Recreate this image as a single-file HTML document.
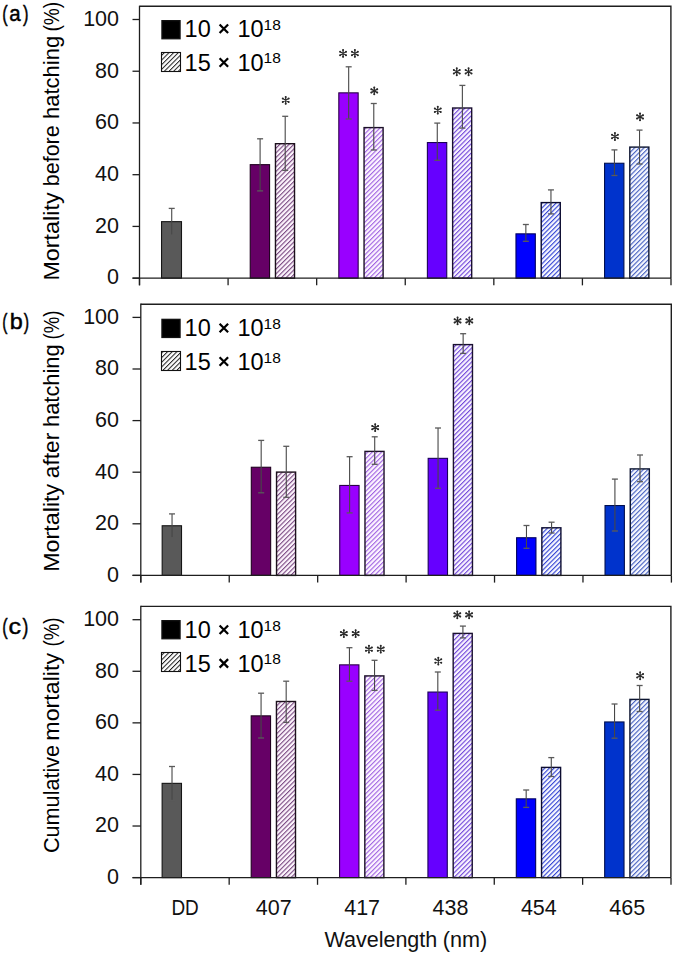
<!DOCTYPE html><html><head><meta charset="utf-8"><style>html,body{margin:0;padding:0;background:#fff;}svg{display:block}text{font-family:"Liberation Sans", sans-serif}</style></head><body>
<svg width="675" height="955" viewBox="0 0 675 955">
<rect width="675" height="955" fill="#fff"/>
<defs>
<pattern id="h1" patternUnits="userSpaceOnUse" width="3.29" height="3.29" patternTransform="rotate(45)"><rect width="3.29" height="3.29" fill="#fdf5fd"/><rect width="1.12" height="3.29" fill="#7c4c84"/></pattern>
<pattern id="h2" patternUnits="userSpaceOnUse" width="3.29" height="3.29" patternTransform="rotate(45)"><rect width="3.29" height="3.29" fill="#fdf5ff"/><rect width="1.12" height="3.29" fill="#a064e2"/></pattern>
<pattern id="h3" patternUnits="userSpaceOnUse" width="3.29" height="3.29" patternTransform="rotate(45)"><rect width="3.29" height="3.29" fill="#f9f4ff"/><rect width="1.12" height="3.29" fill="#7248da"/></pattern>
<pattern id="h4" patternUnits="userSpaceOnUse" width="3.29" height="3.29" patternTransform="rotate(45)"><rect width="3.29" height="3.29" fill="#f8f9ff"/><rect width="1.12" height="3.29" fill="#3444d4"/></pattern>
<pattern id="h5" patternUnits="userSpaceOnUse" width="3.29" height="3.29" patternTransform="rotate(45)"><rect width="3.29" height="3.29" fill="#f7f9ff"/><rect width="1.12" height="3.29" fill="#4660c0"/></pattern>
<pattern id="hl" patternUnits="userSpaceOnUse" x="1.71" width="3.288" height="3.288" patternTransform="rotate(45)"><rect width="3.288" height="3.288" fill="#fff"/><rect width="1.0" height="3.288" fill="#1e1e1e"/></pattern>
<g id="ast"><path d="M0,-3.5V3.5M-3.03,-1.75L3.03,1.75M-3.03,1.75L3.03,-1.75" stroke="#2a2a2a" stroke-width="1.25" stroke-linecap="round" fill="none"/><circle cx="0.00" cy="3.40" r="1.0" fill="#2a2a2a"/><circle cx="-0.00" cy="-3.40" r="1.0" fill="#2a2a2a"/><circle cx="2.94" cy="1.70" r="1.0" fill="#2a2a2a"/><circle cx="-2.94" cy="1.70" r="1.0" fill="#2a2a2a"/><circle cx="-2.94" cy="-1.70" r="1.0" fill="#2a2a2a"/><circle cx="2.94" cy="-1.70" r="1.0" fill="#2a2a2a"/></g>
</defs>
<path d="M139.50,6.30H670.90V278.15" stroke="#1e1e1e" stroke-width="1.40" fill="none"/>
<line x1="132.5" y1="278.15" x2="139.50" y2="278.15" stroke="#1e1e1e" stroke-width="1.30"/>
<text x="119" y="284.45" font-size="21.5" text-anchor="end" fill="#111">0</text>
<line x1="132.5" y1="226.42" x2="139.50" y2="226.42" stroke="#1e1e1e" stroke-width="1.30"/>
<text x="119" y="232.72" font-size="21.5" text-anchor="end" fill="#111">20</text>
<line x1="132.5" y1="174.69" x2="139.50" y2="174.69" stroke="#1e1e1e" stroke-width="1.30"/>
<text x="119" y="180.99" font-size="21.5" text-anchor="end" fill="#111">40</text>
<line x1="132.5" y1="122.96" x2="139.50" y2="122.96" stroke="#1e1e1e" stroke-width="1.30"/>
<text x="119" y="129.26" font-size="21.5" text-anchor="end" fill="#111">60</text>
<line x1="132.5" y1="71.23" x2="139.50" y2="71.23" stroke="#1e1e1e" stroke-width="1.30"/>
<text x="119" y="77.53" font-size="21.5" text-anchor="end" fill="#111">80</text>
<line x1="132.5" y1="19.50" x2="139.50" y2="19.50" stroke="#1e1e1e" stroke-width="1.30"/>
<text x="119" y="25.80" font-size="21.5" text-anchor="end" fill="#111">100</text>
<line x1="139.50" y1="278.15" x2="139.50" y2="285.35" stroke="#1e1e1e" stroke-width="1.30"/>
<line x1="228.08" y1="278.15" x2="228.08" y2="285.35" stroke="#1e1e1e" stroke-width="1.30"/>
<line x1="316.67" y1="278.15" x2="316.67" y2="285.35" stroke="#1e1e1e" stroke-width="1.30"/>
<line x1="405.25" y1="278.15" x2="405.25" y2="285.35" stroke="#1e1e1e" stroke-width="1.30"/>
<line x1="493.83" y1="278.15" x2="493.83" y2="285.35" stroke="#1e1e1e" stroke-width="1.30"/>
<line x1="582.42" y1="278.15" x2="582.42" y2="285.35" stroke="#1e1e1e" stroke-width="1.30"/>
<line x1="671.00" y1="278.15" x2="671.00" y2="285.35" stroke="#1e1e1e" stroke-width="1.30"/>
<rect x="161.54" y="221.65" width="19.95" height="56.50" fill="#595959" stroke="#151515" stroke-width="1.10"/>
<line x1="171.72" y1="208.40" x2="171.72" y2="235.10" stroke="#474747" stroke-width="1.1"/>
<line x1="168.72" y1="208.40" x2="174.72" y2="208.40" stroke="#5a5a5a" stroke-width="1.3"/>
<line x1="168.72" y1="235.10" x2="174.72" y2="235.10" stroke="#5a5a5a" stroke-width="1.3"/>
<rect x="250.23" y="164.65" width="19.35" height="113.50" fill="#660066" stroke="#200020" stroke-width="1.10"/>
<line x1="260.10" y1="138.80" x2="260.10" y2="190.90" stroke="#474747" stroke-width="1.1"/>
<line x1="257.10" y1="138.80" x2="263.10" y2="138.80" stroke="#5a5a5a" stroke-width="1.3"/>
<line x1="257.10" y1="190.90" x2="263.10" y2="190.90" stroke="#5a5a5a" stroke-width="1.3"/>
<rect x="275.47" y="143.70" width="19.05" height="134.45" fill="url(#h1)" stroke="#1c101c" stroke-width="1.40"/>
<line x1="285.20" y1="116.30" x2="285.20" y2="170.40" stroke="#474747" stroke-width="1.1"/>
<line x1="282.20" y1="116.30" x2="288.20" y2="116.30" stroke="#5a5a5a" stroke-width="1.3"/>
<line x1="282.20" y1="170.40" x2="288.20" y2="170.40" stroke="#5a5a5a" stroke-width="1.3"/>
<use href="#ast" x="285.70" y="100.30"/>
<rect x="338.81" y="92.85" width="19.35" height="185.30" fill="#9900ff" stroke="#2a0048" stroke-width="1.10"/>
<line x1="348.68" y1="66.80" x2="348.68" y2="119.00" stroke="#474747" stroke-width="1.1"/>
<line x1="345.68" y1="66.80" x2="351.68" y2="66.80" stroke="#5a5a5a" stroke-width="1.3"/>
<line x1="345.68" y1="119.00" x2="351.68" y2="119.00" stroke="#5a5a5a" stroke-width="1.3"/>
<use href="#ast" x="343.08" y="53.45"/>
<use href="#ast" x="354.88" y="53.45"/>
<rect x="364.06" y="127.60" width="19.05" height="150.55" fill="url(#h2)" stroke="#1c1028" stroke-width="1.40"/>
<line x1="373.78" y1="103.50" x2="373.78" y2="150.00" stroke="#474747" stroke-width="1.1"/>
<line x1="370.78" y1="103.50" x2="376.78" y2="103.50" stroke="#5a5a5a" stroke-width="1.3"/>
<line x1="370.78" y1="150.00" x2="376.78" y2="150.00" stroke="#5a5a5a" stroke-width="1.3"/>
<use href="#ast" x="374.28" y="90.85"/>
<rect x="427.39" y="142.55" width="19.35" height="135.60" fill="#6600ff" stroke="#1a0058" stroke-width="1.10"/>
<line x1="437.27" y1="123.10" x2="437.27" y2="160.30" stroke="#474747" stroke-width="1.1"/>
<line x1="434.27" y1="123.10" x2="440.27" y2="123.10" stroke="#5a5a5a" stroke-width="1.3"/>
<line x1="434.27" y1="160.30" x2="440.27" y2="160.30" stroke="#5a5a5a" stroke-width="1.3"/>
<use href="#ast" x="437.77" y="110.20"/>
<rect x="452.64" y="108.00" width="19.05" height="170.15" fill="url(#h3)" stroke="#1a1030" stroke-width="1.40"/>
<line x1="462.37" y1="85.40" x2="462.37" y2="128.10" stroke="#474747" stroke-width="1.1"/>
<line x1="459.37" y1="85.40" x2="465.37" y2="85.40" stroke="#5a5a5a" stroke-width="1.3"/>
<line x1="459.37" y1="128.10" x2="465.37" y2="128.10" stroke="#5a5a5a" stroke-width="1.3"/>
<use href="#ast" x="456.77" y="71.75"/>
<use href="#ast" x="468.57" y="71.75"/>
<rect x="515.97" y="233.85" width="19.35" height="44.30" fill="#0000ff" stroke="#000060" stroke-width="1.10"/>
<line x1="525.85" y1="224.50" x2="525.85" y2="241.30" stroke="#474747" stroke-width="1.1"/>
<line x1="522.85" y1="224.50" x2="528.85" y2="224.50" stroke="#5a5a5a" stroke-width="1.3"/>
<line x1="522.85" y1="241.30" x2="528.85" y2="241.30" stroke="#5a5a5a" stroke-width="1.3"/>
<rect x="541.23" y="202.60" width="19.05" height="75.55" fill="url(#h4)" stroke="#0c0c30" stroke-width="1.40"/>
<line x1="550.95" y1="189.90" x2="550.95" y2="213.90" stroke="#474747" stroke-width="1.1"/>
<line x1="547.95" y1="189.90" x2="553.95" y2="189.90" stroke="#5a5a5a" stroke-width="1.3"/>
<line x1="547.95" y1="213.90" x2="553.95" y2="213.90" stroke="#5a5a5a" stroke-width="1.3"/>
<rect x="604.56" y="163.25" width="19.35" height="114.90" fill="#0033cc" stroke="#001050" stroke-width="1.10"/>
<line x1="614.43" y1="149.90" x2="614.43" y2="175.50" stroke="#474747" stroke-width="1.1"/>
<line x1="611.43" y1="149.90" x2="617.43" y2="149.90" stroke="#5a5a5a" stroke-width="1.3"/>
<line x1="611.43" y1="175.50" x2="617.43" y2="175.50" stroke="#5a5a5a" stroke-width="1.3"/>
<use href="#ast" x="614.93" y="136.50"/>
<rect x="629.81" y="147.10" width="19.05" height="131.05" fill="url(#h5)" stroke="#0c1430" stroke-width="1.40"/>
<line x1="639.53" y1="130.10" x2="639.53" y2="164.00" stroke="#474747" stroke-width="1.1"/>
<line x1="636.53" y1="130.10" x2="642.53" y2="130.10" stroke="#5a5a5a" stroke-width="1.3"/>
<line x1="636.53" y1="164.00" x2="642.53" y2="164.00" stroke="#5a5a5a" stroke-width="1.3"/>
<use href="#ast" x="640.03" y="116.90"/>
<line x1="139.50" y1="5.65" x2="139.50" y2="285.35" stroke="#1e1e1e" stroke-width="1.30"/>
<line x1="132.5" y1="278.15" x2="671.00" y2="278.15" stroke="#1e1e1e" stroke-width="1.30"/>
<rect x="161.95" y="20.65" width="18.1" height="18.1" fill="#000" stroke="#111" stroke-width="1.3"/>
<rect x="161.5" y="52.50" width="19" height="19" fill="url(#hl)" stroke="#111" stroke-width="1.1"/>
<text x="184.6" y="37.05" font-size="23.5" fill="#000">10</text>
<text x="237.4" y="37.05" font-size="23.5" fill="#000">10</text>
<text x="263.6" y="29.75" font-size="15.5" fill="#000">18</text>
<path d="M219.6,24.50L228.1,33.00M219.6,33.00L228.1,24.50" stroke="#000" stroke-width="2.25" fill="none"/>
<text x="184.6" y="70.75" font-size="23.5" fill="#000">15</text>
<text x="237.4" y="70.75" font-size="23.5" fill="#000">10</text>
<text x="263.6" y="63.45" font-size="15.5" fill="#000">18</text>
<path d="M219.6,58.20L228.1,66.70M219.6,66.70L228.1,58.20" stroke="#000" stroke-width="2.25" fill="none"/>
<text x="2.19" y="21.40" font-size="21.7" textLength="5.40" lengthAdjust="spacingAndGlyphs" fill="#000" stroke="#000" stroke-width="0.45">(</text>
<text x="9.13" y="21.40" font-size="21.7" textLength="11.37" lengthAdjust="spacingAndGlyphs" fill="#000" stroke="#000" stroke-width="0.45">a</text>
<text x="22.90" y="21.40" font-size="21.7" textLength="5.53" lengthAdjust="spacingAndGlyphs" fill="#000" stroke="#000" stroke-width="0.45">)</text>
<text transform="translate(59,278.70) rotate(-90)" x="-1.91" font-size="22" textLength="88.16" lengthAdjust="spacingAndGlyphs" fill="#000">Mortality</text>
<text transform="translate(59,184.90) rotate(-90)" x="-1.39" font-size="22" textLength="61.04" lengthAdjust="spacingAndGlyphs" fill="#000">before</text>
<text transform="translate(59,117.50) rotate(-90)" x="-1.52" font-size="22" textLength="83.14" lengthAdjust="spacingAndGlyphs" fill="#000">hatching</text>
<text transform="translate(59,30.40) rotate(-90)" x="-1.19" font-size="22" textLength="29.77" lengthAdjust="spacingAndGlyphs" fill="#000">(%)</text>
<path d="M140.80,304.20H671.30V575.40" stroke="#1e1e1e" stroke-width="1.40" fill="none"/>
<line x1="132.5" y1="575.40" x2="140.80" y2="575.40" stroke="#1e1e1e" stroke-width="1.30"/>
<text x="119" y="581.70" font-size="21.5" text-anchor="end" fill="#111">0</text>
<line x1="132.5" y1="523.80" x2="140.80" y2="523.80" stroke="#1e1e1e" stroke-width="1.30"/>
<text x="119" y="530.10" font-size="21.5" text-anchor="end" fill="#111">20</text>
<line x1="132.5" y1="472.20" x2="140.80" y2="472.20" stroke="#1e1e1e" stroke-width="1.30"/>
<text x="119" y="478.50" font-size="21.5" text-anchor="end" fill="#111">40</text>
<line x1="132.5" y1="420.60" x2="140.80" y2="420.60" stroke="#1e1e1e" stroke-width="1.30"/>
<text x="119" y="426.90" font-size="21.5" text-anchor="end" fill="#111">60</text>
<line x1="132.5" y1="369.00" x2="140.80" y2="369.00" stroke="#1e1e1e" stroke-width="1.30"/>
<text x="119" y="375.30" font-size="21.5" text-anchor="end" fill="#111">80</text>
<line x1="132.5" y1="317.40" x2="140.80" y2="317.40" stroke="#1e1e1e" stroke-width="1.30"/>
<text x="119" y="323.70" font-size="21.5" text-anchor="end" fill="#111">100</text>
<line x1="140.80" y1="575.40" x2="140.80" y2="582.60" stroke="#1e1e1e" stroke-width="1.30"/>
<line x1="229.23" y1="575.40" x2="229.23" y2="582.60" stroke="#1e1e1e" stroke-width="1.30"/>
<line x1="317.67" y1="575.40" x2="317.67" y2="582.60" stroke="#1e1e1e" stroke-width="1.30"/>
<line x1="406.10" y1="575.40" x2="406.10" y2="582.60" stroke="#1e1e1e" stroke-width="1.30"/>
<line x1="494.53" y1="575.40" x2="494.53" y2="582.60" stroke="#1e1e1e" stroke-width="1.30"/>
<line x1="582.97" y1="575.40" x2="582.97" y2="582.60" stroke="#1e1e1e" stroke-width="1.30"/>
<line x1="671.40" y1="575.40" x2="671.40" y2="582.60" stroke="#1e1e1e" stroke-width="1.30"/>
<rect x="162.17" y="525.75" width="19.35" height="49.65" fill="#595959" stroke="#151515" stroke-width="1.10"/>
<line x1="172.04" y1="513.90" x2="172.04" y2="537.80" stroke="#474747" stroke-width="1.1"/>
<line x1="169.04" y1="513.90" x2="175.04" y2="513.90" stroke="#5a5a5a" stroke-width="1.3"/>
<line x1="169.04" y1="537.80" x2="175.04" y2="537.80" stroke="#5a5a5a" stroke-width="1.3"/>
<rect x="251.30" y="467.25" width="19.35" height="108.15" fill="#660066" stroke="#200020" stroke-width="1.10"/>
<line x1="261.18" y1="440.40" x2="261.18" y2="492.80" stroke="#474747" stroke-width="1.1"/>
<line x1="258.18" y1="440.40" x2="264.18" y2="440.40" stroke="#5a5a5a" stroke-width="1.3"/>
<line x1="258.18" y1="492.80" x2="264.18" y2="492.80" stroke="#5a5a5a" stroke-width="1.3"/>
<rect x="276.55" y="472.10" width="19.05" height="103.30" fill="url(#h1)" stroke="#1c101c" stroke-width="1.40"/>
<line x1="286.27" y1="446.30" x2="286.27" y2="497.30" stroke="#474747" stroke-width="1.1"/>
<line x1="283.27" y1="446.30" x2="289.27" y2="446.30" stroke="#5a5a5a" stroke-width="1.3"/>
<line x1="283.27" y1="497.30" x2="289.27" y2="497.30" stroke="#5a5a5a" stroke-width="1.3"/>
<rect x="339.73" y="485.45" width="19.35" height="89.95" fill="#9900ff" stroke="#2a0048" stroke-width="1.10"/>
<line x1="349.61" y1="456.70" x2="349.61" y2="512.90" stroke="#474747" stroke-width="1.1"/>
<line x1="346.61" y1="456.70" x2="352.61" y2="456.70" stroke="#5a5a5a" stroke-width="1.3"/>
<line x1="346.61" y1="512.90" x2="352.61" y2="512.90" stroke="#5a5a5a" stroke-width="1.3"/>
<rect x="364.98" y="451.40" width="19.05" height="124.00" fill="url(#h2)" stroke="#1c1028" stroke-width="1.40"/>
<line x1="374.71" y1="436.80" x2="374.71" y2="464.30" stroke="#474747" stroke-width="1.1"/>
<line x1="371.71" y1="436.80" x2="377.71" y2="436.80" stroke="#5a5a5a" stroke-width="1.3"/>
<line x1="371.71" y1="464.30" x2="377.71" y2="464.30" stroke="#5a5a5a" stroke-width="1.3"/>
<use href="#ast" x="375.21" y="427.65"/>
<rect x="428.17" y="458.35" width="19.35" height="117.05" fill="#6600ff" stroke="#1a0058" stroke-width="1.10"/>
<line x1="438.04" y1="428.00" x2="438.04" y2="488.30" stroke="#474747" stroke-width="1.1"/>
<line x1="435.04" y1="428.00" x2="441.04" y2="428.00" stroke="#5a5a5a" stroke-width="1.3"/>
<line x1="435.04" y1="488.30" x2="441.04" y2="488.30" stroke="#5a5a5a" stroke-width="1.3"/>
<rect x="453.42" y="344.60" width="19.05" height="230.80" fill="url(#h3)" stroke="#1a1030" stroke-width="1.40"/>
<line x1="463.14" y1="333.70" x2="463.14" y2="353.40" stroke="#474747" stroke-width="1.1"/>
<line x1="460.14" y1="333.70" x2="466.14" y2="333.70" stroke="#5a5a5a" stroke-width="1.3"/>
<line x1="460.14" y1="353.40" x2="466.14" y2="353.40" stroke="#5a5a5a" stroke-width="1.3"/>
<use href="#ast" x="457.54" y="320.90"/>
<use href="#ast" x="469.34" y="320.90"/>
<rect x="516.60" y="537.75" width="19.35" height="37.65" fill="#0000ff" stroke="#000060" stroke-width="1.10"/>
<line x1="526.48" y1="525.50" x2="526.48" y2="548.30" stroke="#474747" stroke-width="1.1"/>
<line x1="523.48" y1="525.50" x2="529.48" y2="525.50" stroke="#5a5a5a" stroke-width="1.3"/>
<line x1="523.48" y1="548.30" x2="529.48" y2="548.30" stroke="#5a5a5a" stroke-width="1.3"/>
<rect x="541.85" y="527.80" width="19.05" height="47.60" fill="url(#h4)" stroke="#0c0c30" stroke-width="1.40"/>
<line x1="551.58" y1="522.20" x2="551.58" y2="533.00" stroke="#474747" stroke-width="1.1"/>
<line x1="548.58" y1="522.20" x2="554.58" y2="522.20" stroke="#5a5a5a" stroke-width="1.3"/>
<line x1="548.58" y1="533.00" x2="554.58" y2="533.00" stroke="#5a5a5a" stroke-width="1.3"/>
<rect x="605.03" y="505.55" width="19.35" height="69.85" fill="#0033cc" stroke="#001050" stroke-width="1.10"/>
<line x1="614.91" y1="479.10" x2="614.91" y2="531.00" stroke="#474747" stroke-width="1.1"/>
<line x1="611.91" y1="479.10" x2="617.91" y2="479.10" stroke="#5a5a5a" stroke-width="1.3"/>
<line x1="611.91" y1="531.00" x2="617.91" y2="531.00" stroke="#5a5a5a" stroke-width="1.3"/>
<rect x="630.28" y="468.90" width="19.05" height="106.50" fill="url(#h5)" stroke="#0c1430" stroke-width="1.40"/>
<line x1="640.01" y1="455.00" x2="640.01" y2="481.70" stroke="#474747" stroke-width="1.1"/>
<line x1="637.01" y1="455.00" x2="643.01" y2="455.00" stroke="#5a5a5a" stroke-width="1.3"/>
<line x1="637.01" y1="481.70" x2="643.01" y2="481.70" stroke="#5a5a5a" stroke-width="1.3"/>
<line x1="140.80" y1="303.55" x2="140.80" y2="582.60" stroke="#1e1e1e" stroke-width="1.30"/>
<line x1="132.5" y1="575.40" x2="671.40" y2="575.40" stroke="#1e1e1e" stroke-width="1.30"/>
<rect x="161.95" y="319.35" width="18.1" height="18.1" fill="#000" stroke="#111" stroke-width="1.3"/>
<rect x="161.5" y="351.50" width="19" height="19" fill="url(#hl)" stroke="#111" stroke-width="1.1"/>
<text x="184.6" y="336.25" font-size="23.5" fill="#000">10</text>
<text x="237.4" y="336.25" font-size="23.5" fill="#000">10</text>
<text x="263.6" y="328.95" font-size="15.5" fill="#000">18</text>
<path d="M219.6,323.70L228.1,332.20M219.6,332.20L228.1,323.70" stroke="#000" stroke-width="2.25" fill="none"/>
<text x="184.6" y="369.85" font-size="23.5" fill="#000">15</text>
<text x="237.4" y="369.85" font-size="23.5" fill="#000">10</text>
<text x="263.6" y="362.55" font-size="15.5" fill="#000">18</text>
<path d="M219.6,357.30L228.1,365.80M219.6,365.80L228.1,357.30" stroke="#000" stroke-width="2.25" fill="none"/>
<text x="2.34" y="328.60" font-size="21.7" textLength="5.15" lengthAdjust="spacingAndGlyphs" fill="#000" stroke="#000" stroke-width="0.45">(</text>
<text x="9.80" y="328.60" font-size="21.7" textLength="12.99" lengthAdjust="spacingAndGlyphs" fill="#000" stroke="#000" stroke-width="0.45">b</text>
<text x="23.80" y="328.60" font-size="21.7" textLength="5.40" lengthAdjust="spacingAndGlyphs" fill="#000" stroke="#000" stroke-width="0.45">)</text>
<text transform="translate(59,569.90) rotate(-90)" x="-1.91" font-size="22" textLength="88.06" lengthAdjust="spacingAndGlyphs" fill="#000">Mortality</text>
<text transform="translate(59,477.20) rotate(-90)" x="-0.96" font-size="22" textLength="45.34" lengthAdjust="spacingAndGlyphs" fill="#000">after</text>
<text transform="translate(59,425.50) rotate(-90)" x="-1.52" font-size="22" textLength="82.73" lengthAdjust="spacingAndGlyphs" fill="#000">hatching</text>
<text transform="translate(59,338.30) rotate(-90)" x="-1.15" font-size="22" textLength="28.91" lengthAdjust="spacingAndGlyphs" fill="#000">(%)</text>
<path d="M140.80,606.40H670.90V877.60" stroke="#1e1e1e" stroke-width="1.40" fill="none"/>
<line x1="132.5" y1="877.60" x2="140.80" y2="877.60" stroke="#1e1e1e" stroke-width="1.30"/>
<text x="119" y="883.90" font-size="21.5" text-anchor="end" fill="#111">0</text>
<line x1="132.5" y1="826.02" x2="140.80" y2="826.02" stroke="#1e1e1e" stroke-width="1.30"/>
<text x="119" y="832.32" font-size="21.5" text-anchor="end" fill="#111">20</text>
<line x1="132.5" y1="774.44" x2="140.80" y2="774.44" stroke="#1e1e1e" stroke-width="1.30"/>
<text x="119" y="780.74" font-size="21.5" text-anchor="end" fill="#111">40</text>
<line x1="132.5" y1="722.86" x2="140.80" y2="722.86" stroke="#1e1e1e" stroke-width="1.30"/>
<text x="119" y="729.16" font-size="21.5" text-anchor="end" fill="#111">60</text>
<line x1="132.5" y1="671.28" x2="140.80" y2="671.28" stroke="#1e1e1e" stroke-width="1.30"/>
<text x="119" y="677.58" font-size="21.5" text-anchor="end" fill="#111">80</text>
<line x1="132.5" y1="619.70" x2="140.80" y2="619.70" stroke="#1e1e1e" stroke-width="1.30"/>
<text x="119" y="626.00" font-size="21.5" text-anchor="end" fill="#111">100</text>
<line x1="140.80" y1="877.60" x2="140.80" y2="884.80" stroke="#1e1e1e" stroke-width="1.30"/>
<line x1="229.17" y1="877.60" x2="229.17" y2="884.80" stroke="#1e1e1e" stroke-width="1.30"/>
<line x1="317.53" y1="877.60" x2="317.53" y2="884.80" stroke="#1e1e1e" stroke-width="1.30"/>
<line x1="405.90" y1="877.60" x2="405.90" y2="884.80" stroke="#1e1e1e" stroke-width="1.30"/>
<line x1="494.27" y1="877.60" x2="494.27" y2="884.80" stroke="#1e1e1e" stroke-width="1.30"/>
<line x1="582.63" y1="877.60" x2="582.63" y2="884.80" stroke="#1e1e1e" stroke-width="1.30"/>
<line x1="671.00" y1="877.60" x2="671.00" y2="884.80" stroke="#1e1e1e" stroke-width="1.30"/>
<rect x="162.13" y="783.35" width="19.35" height="94.25" fill="#595959" stroke="#151515" stroke-width="1.10"/>
<line x1="172.01" y1="766.50" x2="172.01" y2="800.40" stroke="#474747" stroke-width="1.1"/>
<line x1="169.01" y1="766.50" x2="175.01" y2="766.50" stroke="#5a5a5a" stroke-width="1.3"/>
<line x1="169.01" y1="800.40" x2="175.01" y2="800.40" stroke="#5a5a5a" stroke-width="1.3"/>
<rect x="251.20" y="715.85" width="19.35" height="161.75" fill="#660066" stroke="#200020" stroke-width="1.10"/>
<line x1="261.07" y1="693.20" x2="261.07" y2="738.00" stroke="#474747" stroke-width="1.1"/>
<line x1="258.07" y1="693.20" x2="264.07" y2="693.20" stroke="#5a5a5a" stroke-width="1.3"/>
<line x1="258.07" y1="738.00" x2="264.07" y2="738.00" stroke="#5a5a5a" stroke-width="1.3"/>
<rect x="276.45" y="701.50" width="19.05" height="176.10" fill="url(#h1)" stroke="#1c101c" stroke-width="1.40"/>
<line x1="286.18" y1="681.20" x2="286.18" y2="722.40" stroke="#474747" stroke-width="1.1"/>
<line x1="283.18" y1="681.20" x2="289.18" y2="681.20" stroke="#5a5a5a" stroke-width="1.3"/>
<line x1="283.18" y1="722.40" x2="289.18" y2="722.40" stroke="#5a5a5a" stroke-width="1.3"/>
<rect x="339.57" y="664.85" width="19.35" height="212.75" fill="#9900ff" stroke="#2a0048" stroke-width="1.10"/>
<line x1="349.44" y1="647.70" x2="349.44" y2="681.20" stroke="#474747" stroke-width="1.1"/>
<line x1="346.44" y1="647.70" x2="352.44" y2="647.70" stroke="#5a5a5a" stroke-width="1.3"/>
<line x1="346.44" y1="681.20" x2="352.44" y2="681.20" stroke="#5a5a5a" stroke-width="1.3"/>
<use href="#ast" x="343.84" y="633.65"/>
<use href="#ast" x="355.64" y="633.65"/>
<rect x="364.82" y="675.90" width="19.05" height="201.70" fill="url(#h2)" stroke="#1c1028" stroke-width="1.40"/>
<line x1="374.54" y1="660.30" x2="374.54" y2="690.40" stroke="#474747" stroke-width="1.1"/>
<line x1="371.54" y1="660.30" x2="377.54" y2="660.30" stroke="#5a5a5a" stroke-width="1.3"/>
<line x1="371.54" y1="690.40" x2="377.54" y2="690.40" stroke="#5a5a5a" stroke-width="1.3"/>
<use href="#ast" x="368.94" y="649.15"/>
<use href="#ast" x="380.74" y="649.15"/>
<rect x="427.93" y="692.05" width="19.35" height="185.55" fill="#6600ff" stroke="#1a0058" stroke-width="1.10"/>
<line x1="437.81" y1="672.00" x2="437.81" y2="710.20" stroke="#474747" stroke-width="1.1"/>
<line x1="434.81" y1="672.00" x2="440.81" y2="672.00" stroke="#5a5a5a" stroke-width="1.3"/>
<line x1="434.81" y1="710.20" x2="440.81" y2="710.20" stroke="#5a5a5a" stroke-width="1.3"/>
<use href="#ast" x="438.31" y="661.05"/>
<rect x="453.18" y="633.40" width="19.05" height="244.20" fill="url(#h3)" stroke="#1a1030" stroke-width="1.40"/>
<line x1="462.91" y1="626.10" x2="462.91" y2="637.90" stroke="#474747" stroke-width="1.1"/>
<line x1="459.91" y1="626.10" x2="465.91" y2="626.10" stroke="#5a5a5a" stroke-width="1.3"/>
<line x1="459.91" y1="637.90" x2="465.91" y2="637.90" stroke="#5a5a5a" stroke-width="1.3"/>
<use href="#ast" x="457.31" y="614.85"/>
<use href="#ast" x="469.11" y="614.85"/>
<rect x="516.30" y="798.85" width="19.35" height="78.75" fill="#0000ff" stroke="#000060" stroke-width="1.10"/>
<line x1="526.18" y1="790.00" x2="526.18" y2="807.40" stroke="#474747" stroke-width="1.1"/>
<line x1="523.18" y1="790.00" x2="529.18" y2="790.00" stroke="#5a5a5a" stroke-width="1.3"/>
<line x1="523.18" y1="807.40" x2="529.18" y2="807.40" stroke="#5a5a5a" stroke-width="1.3"/>
<rect x="541.55" y="767.40" width="19.05" height="110.20" fill="url(#h4)" stroke="#0c0c30" stroke-width="1.40"/>
<line x1="551.28" y1="757.60" x2="551.28" y2="776.50" stroke="#474747" stroke-width="1.1"/>
<line x1="548.28" y1="757.60" x2="554.28" y2="757.60" stroke="#5a5a5a" stroke-width="1.3"/>
<line x1="548.28" y1="776.50" x2="554.28" y2="776.50" stroke="#5a5a5a" stroke-width="1.3"/>
<rect x="604.67" y="721.95" width="19.35" height="155.65" fill="#0033cc" stroke="#001050" stroke-width="1.10"/>
<line x1="614.54" y1="704.00" x2="614.54" y2="738.20" stroke="#474747" stroke-width="1.1"/>
<line x1="611.54" y1="704.00" x2="617.54" y2="704.00" stroke="#5a5a5a" stroke-width="1.3"/>
<line x1="611.54" y1="738.20" x2="617.54" y2="738.20" stroke="#5a5a5a" stroke-width="1.3"/>
<rect x="629.92" y="699.40" width="19.05" height="178.20" fill="url(#h5)" stroke="#0c1430" stroke-width="1.40"/>
<line x1="639.64" y1="685.50" x2="639.64" y2="711.50" stroke="#474747" stroke-width="1.1"/>
<line x1="636.64" y1="685.50" x2="642.64" y2="685.50" stroke="#5a5a5a" stroke-width="1.3"/>
<line x1="636.64" y1="711.50" x2="642.64" y2="711.50" stroke="#5a5a5a" stroke-width="1.3"/>
<use href="#ast" x="640.14" y="675.75"/>
<line x1="140.80" y1="605.75" x2="140.80" y2="884.80" stroke="#1e1e1e" stroke-width="1.30"/>
<line x1="132.5" y1="877.60" x2="671.00" y2="877.60" stroke="#1e1e1e" stroke-width="1.30"/>
<rect x="161.95" y="620.65" width="18.1" height="18.1" fill="#000" stroke="#111" stroke-width="1.3"/>
<rect x="161.5" y="652.50" width="19" height="19" fill="url(#hl)" stroke="#111" stroke-width="1.1"/>
<text x="184.6" y="638.05" font-size="23.5" fill="#000">10</text>
<text x="237.4" y="638.05" font-size="23.5" fill="#000">10</text>
<text x="263.6" y="630.75" font-size="15.5" fill="#000">18</text>
<path d="M219.6,625.50L228.1,634.00M219.6,634.00L228.1,625.50" stroke="#000" stroke-width="2.25" fill="none"/>
<text x="184.6" y="671.65" font-size="23.5" fill="#000">15</text>
<text x="237.4" y="671.65" font-size="23.5" fill="#000">10</text>
<text x="263.6" y="664.35" font-size="15.5" fill="#000">18</text>
<path d="M219.6,659.10L228.1,667.60M219.6,667.60L228.1,659.10" stroke="#000" stroke-width="2.25" fill="none"/>
<text x="2.19" y="634.40" font-size="21.7" textLength="5.40" lengthAdjust="spacingAndGlyphs" fill="#000" stroke="#000" stroke-width="0.45">(</text>
<text x="8.64" y="634.40" font-size="21.7" textLength="12.52" lengthAdjust="spacingAndGlyphs" fill="#000" stroke="#000" stroke-width="0.45">c</text>
<text x="22.60" y="634.40" font-size="21.7" textLength="5.90" lengthAdjust="spacingAndGlyphs" fill="#000" stroke="#000" stroke-width="0.45">)</text>
<text transform="translate(59,851.90) rotate(-90)" x="-1.10" font-size="22" textLength="108.06" lengthAdjust="spacingAndGlyphs" fill="#000">Cumulative</text>
<text transform="translate(59,739.10) rotate(-90)" x="-1.54" font-size="22" textLength="87.69" lengthAdjust="spacingAndGlyphs" fill="#000">mortality</text>
<text transform="translate(59,645.40) rotate(-90)" x="-1.16" font-size="22" textLength="29.12" lengthAdjust="spacingAndGlyphs" fill="#000">(%)</text>
<text x="171.45" y="915.2" font-size="21.5" textLength="27.36" lengthAdjust="spacingAndGlyphs" fill="#111">DD</text>
<text x="273.75" y="915.2" font-size="21.5" text-anchor="middle" fill="#111">407</text>
<text x="362.12" y="915.2" font-size="21.5" text-anchor="middle" fill="#111">417</text>
<text x="450.48" y="915.2" font-size="21.5" text-anchor="middle" fill="#111">438</text>
<text x="538.85" y="915.2" font-size="21.5" text-anchor="middle" fill="#111">454</text>
<text x="627.22" y="915.2" font-size="21.5" text-anchor="middle" fill="#111">465</text>
<text x="324.41" y="947.2" font-size="21.5" textLength="112.88" lengthAdjust="spacingAndGlyphs" fill="#111">Wavelength</text>
<text x="442.76" y="947.2" font-size="21.5" textLength="44.48" lengthAdjust="spacingAndGlyphs" fill="#111">(nm)</text>
</svg></body></html>
